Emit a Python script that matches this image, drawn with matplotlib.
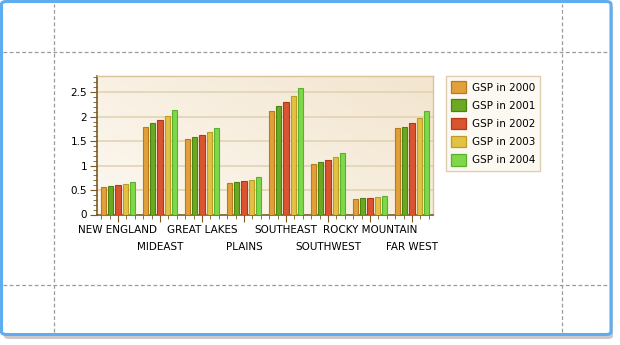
import numpy as np
import matplotlib
matplotlib.use("Agg")
import matplotlib.pyplot as plt
from matplotlib.patches import FancyBboxPatch, Rectangle
from matplotlib.lines import Line2D
from matplotlib.ticker import MultipleLocator
from matplotlib.transforms import blended_transform_factory

regions = ["NEW ENGLAND", "MIDEAST", "GREAT LAKES", "PLAINS",
           "SOUTHEAST", "SOUTHWEST", "ROCKY MOUNTAIN", "FAR WEST"]
series_names = ["GSP in 2000", "GSP in 2001", "GSP in 2002", "GSP in 2003", "GSP in 2004"]
gsp_2000 = [0.56, 1.79, 1.54, 0.64, 2.12, 1.03, 0.31, 1.77]
gsp_2001 = [0.58, 1.87, 1.58, 0.66, 2.22, 1.07, 0.33, 1.79]
gsp_2002 = [0.60, 1.93, 1.63, 0.68, 2.30, 1.11, 0.33, 1.87]
gsp_2003 = [0.62, 2.01, 1.69, 0.70, 2.42, 1.17, 0.36, 1.97]
gsp_2004 = [0.66, 2.14, 1.77, 0.77, 2.59, 1.26, 0.38, 2.12]
y_ticks = [0, 0.5, 1, 1.5, 2, 2.5]
y_tick_labels = ["0", "0.5", "1", "1.5", "2", "2.5"]

series = [gsp_2000, gsp_2001, gsp_2002, gsp_2003, gsp_2004]
fills = ["#E2A03A", "#6CA822", "#DA5430", "#E2C244", "#7ED848"]
edges = ["#B87A1C", "#4C8410", "#B03A18", "#BC9C22", "#5AB030"]

W, H = 620, 345
fig = plt.figure(figsize=(W / 100, H / 100), dpi=100)
fig.patch.set_facecolor("white")

# frame shadow + blue rounded frame
fig.patches.append(FancyBboxPatch((4 / W, 1 - 339 / H), 609 / W, 334 / H,
                                  boxstyle="round,pad=0,rounding_size=0.008",
                                  transform=fig.transFigure, facecolor="#8a8a8a",
                                  edgecolor="none", alpha=0.45, zorder=0))
fig.patches.append(FancyBboxPatch((1.5 / W, 1 - 334.5 / H), 609.5 / W, 333 / H,
                                  boxstyle="round,pad=0,rounding_size=0.008",
                                  transform=fig.transFigure, facecolor="white",
                                  edgecolor="#5DADF0", linewidth=2.2, zorder=1))

# dashed guide lines
for yy in [52, 285]:
    fig.lines.append(Line2D([3 / W, 609 / W], [1 - yy / H, 1 - yy / H],
                            transform=fig.transFigure, color="#9a9a9a",
                            linewidth=0.9, linestyle=(0, (3, 2)), zorder=2))
for xx in [54, 562]:
    fig.lines.append(Line2D([xx / W, xx / W], [1 - 332 / H, 1 - 4 / H],
                            transform=fig.transFigure, color="#9a9a9a",
                            linewidth=0.9, linestyle=(0, (3, 2)), zorder=2))

# main axes
left, right, top, bottom = 97, 433, 76, 214.5
ax = fig.add_axes([left / W, 1 - bottom / H, (right - left) / W, (bottom - top) / H])
ax.set_zorder(3)
ymax = 2.83
ax.set_xlim(-0.5, len(regions) - 0.5)
ax.set_ylim(0, ymax)

# gradient background
c1 = np.array([0xFC, 0xF8, 0xF0]) / 255
c2 = np.array([0xF3, 0xE5, 0xCF]) / 255
gx, gy = np.meshgrid(np.linspace(0, 1, 50), np.linspace(0, 1, 50))
t = np.clip((gx * 0.6 + (1 - gy) * 0.4), 0, 1)[..., None]
grad = c1 * (1 - t) + c2 * t
ax.imshow(grad, extent=[-0.5, len(regions) - 0.5, 0, ymax], aspect="auto",
          origin="upper", zorder=0, interpolation="bilinear")

for yv in y_ticks[1:]:
    ax.axhline(yv, color="#E2D3B4", linewidth=1.2, zorder=1)

x = np.arange(len(regions))
step = 0.172
bw = 0.128
for i, (vals, fc, ec, name) in enumerate(zip(series, fills, edges, series_names)):
    ax.bar(x + (i - 2) * step, vals, width=bw, color=fc, edgecolor=ec,
           linewidth=0.8, zorder=3, label=name)

ax.set_yticks(y_ticks)
ax.set_yticklabels(y_tick_labels)
ax.yaxis.set_minor_locator(MultipleLocator(0.1))
ax.set_xticks(x)
ax.set_xticklabels([])
ax.xaxis.set_minor_locator(MultipleLocator(0.2))

axis_col = "#7A5A22"
for s in ["left", "bottom"]:
    ax.spines[s].set_color(axis_col)
    ax.spines[s].set_linewidth(1.2)
for s in ["top", "right"]:
    ax.spines[s].set_color("#D8C39A")
    ax.spines[s].set_linewidth(1.0)

ax.tick_params(axis="y", which="major", length=5, color=axis_col, labelsize=7.5,
               labelcolor="black", pad=2)
ax.tick_params(axis="y", which="minor", length=3, color=axis_col)
ax.tick_params(axis="x", which="major", length=5, color=axis_col)
ax.tick_params(axis="x", which="minor", length=3, color=axis_col)

# staggered category labels
tr = blended_transform_factory(ax.transData, fig.transFigure)
for i, name in enumerate(regions):
    yy = 230 if i % 2 == 0 else 246.5
    ax.text(i, 1 - yy / H, name, transform=tr,
            ha="center", va="center", fontsize=7.5, color="black")

# legend
handles = [Rectangle((0, 0), 1, 1, facecolor=fc, edgecolor=ec, linewidth=0.9)
           for fc, ec in zip(fills, edges)]
leg = fig.legend(handles, series_names, loc="upper left",
                 bbox_to_anchor=(446 / W, 1 - 76 / H), bbox_transform=fig.transFigure,
                 fontsize=7.5, frameon=True, fancybox=False, handlelength=1.4,
                 handleheight=1.35, handletextpad=0.55, labelspacing=0.62,
                 borderpad=0.5, borderaxespad=0)
leg.get_frame().set_facecolor("#FCF8F0")
leg.get_frame().set_edgecolor("#D8C39A")
leg.get_frame().set_linewidth(1.0)
leg.set_zorder(4)

fig.savefig("out.png", dpi=100, facecolor="white")
